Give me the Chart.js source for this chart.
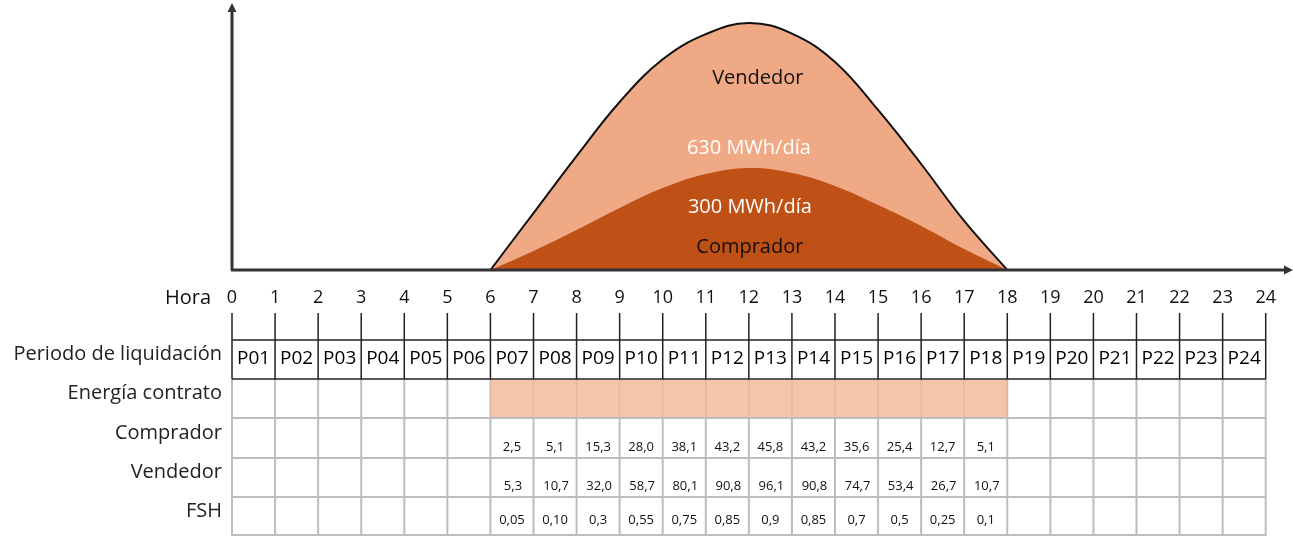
<!DOCTYPE html>
<html lang="es">
<head>
<meta charset="utf-8">
<title>Energía contrato por periodo de liquidación</title>
<script src="https://cdn.jsdelivr.net/npm/chart.js@4.4.1/dist/chart.umd.min.js"></script>
<style>
  html, body { margin: 0; padding: 0; background: #fff; }
  #wrap { position: relative; width: 1293px; height: 536px; }
</style>
</head>
<body>
<div id="wrap"><canvas id="curvaChart"></canvas></div>
<script>
// Periodos horarios de liquidación
const periodos = ["P01", "P02", "P03", "P04", "P05", "P06", "P07", "P08", "P09", "P10", "P11", "P12",
                  "P13", "P14", "P15", "P16", "P17", "P18", "P19", "P20", "P21", "P22", "P23", "P24"];

// Forma de las curvas (altura relativa, escala 0-100) en cada hora
const horasCurva = [6, 7, 8, 9, 10, 11, 12, 13, 14, 15, 16, 17, 18];
const vendedorCurva = [0, 21.5, 43.0, 63.4, 79.5, 89.0, 93.2, 89.2, 78.5, 60.4, 40.0, 18.5, 0];
const compradorCurva = [0, 7.2, 15.1, 23.4, 30.9, 36.2, 38.5, 36.6, 31.7, 24.5, 16.6, 7.9, 0];

// Energía por periodo (MWh), null = sin energía
const comprador = [null, null, null, null, null, null, 2.5, 5.1, 15.3, 28.0, 38.1, 43.2,
                   45.8, 43.2, 35.6, 25.4, 12.7, 5.1, null, null, null, null, null, null];
const vendedor = [null, null, null, null, null, null, 5.3, 10.7, 32.0, 58.7, 80.1, 90.8,
                  96.1, 90.8, 74.7, 53.4, 26.7, 10.7, null, null, null, null, null, null];
const fsh = [null, null, null, null, null, null, "0,05", "0,10", "0,3", "0,55", "0,75", "0,85",
             "0,9", "0,85", "0,7", "0,5", "0,25", "0,1", null, null, null, null, null, null];

const etiquetasFilas = ["Periodo de liquidación", "Energía contrato", "Comprador", "Vendedor", "FSH"];

const FONT = "'Open Sans', 'Noto Sans', sans-serif";
const fmt = (v) => v.toFixed(1).replace(".", ",");
const total = (arr) => Math.round(arr.reduce((s, v) => s + (v || 0), 0));

// filas de la tabla (top, bottom)
const filas = [[340, 379], [379, 418], [418, 458], [458, 497], [497, 535]];

const tablaPlugin = {
    id: "tabla",
    afterDatasetsDraw(chart) {
        const { ctx, scales: { x, y } } = chart;
        const x0 = x.getPixelForValue(0);
        const y0 = y.getPixelForValue(0);
        ctx.save();

        // ejes con flecha
        ctx.strokeStyle = "#333";
        ctx.fillStyle = "#333";
        ctx.lineWidth = 3;
        ctx.beginPath();
        ctx.moveTo(x0, y0);
        ctx.lineTo(x0, 10);
        ctx.moveTo(x0 - 1, y0);
        ctx.lineTo(1286, y0);
        ctx.stroke();
        ctx.beginPath();
        ctx.moveTo(x0, 3);
        ctx.lineTo(x0 - 4.5, 12);
        ctx.lineTo(x0 + 4.5, 12);
        ctx.closePath();
        ctx.fill();
        ctx.beginPath();
        ctx.moveTo(1293, y0);
        ctx.lineTo(1284, y0 - 4.5);
        ctx.lineTo(1284, y0 + 4.5);
        ctx.closePath();
        ctx.fill();

        // textos de las áreas
        const xc = x.getPixelForValue(12);
        ctx.textAlign = "center";
        ctx.textBaseline = "middle";
        ctx.font = "20px " + FONT;
        ctx.fillStyle = "#111";
        ctx.fillText("Vendedor", xc + 9, y.getPixelForValue(72.3));
        ctx.fillText("Comprador", xc + 1, y.getPixelForValue(8.7));
        ctx.fillStyle = "#fff";
        ctx.fillText(total(vendedor) + " MWh/día", xc, y.getPixelForValue(45.9));
        ctx.fillText(total(comprador) + " MWh/día", xc + 1, y.getPixelForValue(23.6));
        ctx.restore();
    },
    afterDraw(chart) {
        const { ctx, scales: { x } } = chart;
        const xs = [];
        for (let h = 0; h <= 24; h++) xs.push(x.getPixelForValue(h));
        const xFin = xs[24];
        ctx.save();

        // "Hora" junto a las etiquetas del eje
        ctx.font = "20px " + FONT;
        ctx.fillStyle = "#111";
        ctx.textAlign = "right";
        ctx.textBaseline = "middle";
        ctx.fillText("Hora", 211, 298);

        // rejilla gris
        ctx.strokeStyle = "#BDBDBD";
        ctx.lineWidth = 2;
        ctx.beginPath();
        xs.forEach((px) => { ctx.moveTo(px, 379); ctx.lineTo(px, 535); });
        filas.slice(2).forEach(([top]) => { ctx.moveTo(xs[0] - 1, top); ctx.lineTo(xFin + 1, top); });
        ctx.moveTo(xs[0] - 1, 535); ctx.lineTo(xFin + 1, 535);
        ctx.stroke();

        // energía contrato: periodos con energía asignada
        ctx.fillStyle = "rgba(244, 187, 154, 0.85)";
        comprador.forEach((v, i) => {
            if (v !== null) ctx.fillRect(xs[i], 380, xs[i + 1] - xs[i], 37);
        });

        // fila de periodos con borde negro
        ctx.strokeStyle = "#222";
        ctx.lineWidth = 1.5;
        ctx.beginPath();
        xs.forEach((px) => { ctx.moveTo(px, 313); ctx.lineTo(px, 379); });
        ctx.moveTo(xs[0], 340); ctx.lineTo(xFin, 340);
        ctx.moveTo(xs[0], 379); ctx.lineTo(xFin, 379);
        ctx.stroke();

        ctx.textAlign = "center";
        ctx.fillStyle = "#000";
        ctx.font = "19px " + FONT;
        periodos.forEach((p, i) => {
            ctx.fillText(p, (xs[i] + xs[i + 1]) / 2, 359);
        });

        // valores por periodo
        ctx.font = "13px " + FONT;
        ctx.fillStyle = "#111";
        for (let i = 0; i < 24; i++) {
            const cx = (xs[i] + xs[i + 1]) / 2;
            if (comprador[i] !== null) ctx.fillText(fmt(comprador[i]), cx, 447);
            if (vendedor[i] !== null) ctx.fillText(fmt(vendedor[i]), cx + 1, 486);
            if (fsh[i] !== null) ctx.fillText(fsh[i], cx, 520);
        }

        // etiquetas de las filas
        ctx.textAlign = "right";
        ctx.font = "20px " + FONT;
        ctx.fillStyle = "#222";
        etiquetasFilas.forEach((t, i) => {
            const [top, bottom] = filas[i];
            ctx.fillText(t, 222, (top + bottom) / 2 - 5);
        });
        ctx.restore();
    }
};

const ctx = document.getElementById("curvaChart");

new Chart(ctx, {
    type: "line",
    data: {
        datasets: [
            {
                label: "Comprador",
                data: horasCurva.map((h, i) => ({ x: h, y: compradorCurva[i] })),
                fill: "origin",
                backgroundColor: "#BF5016",
                borderWidth: 0,
                pointRadius: 0,
                tension: 0.4,
                order: 1,
            },
            {
                label: "Vendedor",
                data: horasCurva.map((h, i) => ({ x: h, y: vendedorCurva[i] })),
                fill: "origin",
                backgroundColor: "#F0A985",
                borderColor: "#111",
                borderWidth: 2,
                pointRadius: 0,
                tension: 0.4,
                order: 2,
            },
        ],
    },
    options: {
        responsive: true,
        maintainAspectRatio: false,
        animation: false,
        events: [],
        layout: {
            padding: { left: 232, right: 23, top: 5, bottom: 0 },
        },
        plugins: {
            legend: { display: false },
            tooltip: { enabled: false },
        },
        scales: {
            x: {
                type: "linear",
                min: 0,
                max: 24,
                afterFit: (scale) => { scale.height = 266; },
                grid: { display: false, drawTicks: false },
                border: { display: false },
                ticks: {
                    stepSize: 1,
                    autoSkip: false,
                    maxRotation: 0,
                    padding: 17,
                    color: "#111",
                    font: { family: FONT, size: 18 },
                },
            },
            y: {
                display: false,
                min: 0,
                max: 100,
            },
        },
    },
    plugins: [tablaPlugin],
});
</script>
</body>
</html>
